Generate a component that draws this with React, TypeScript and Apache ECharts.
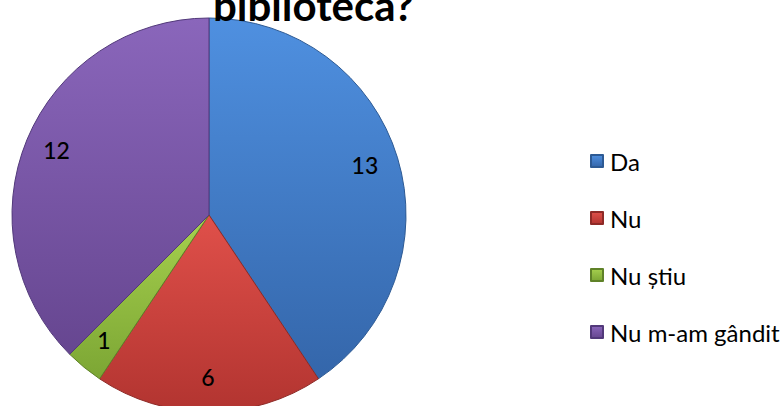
import React, { useEffect, useRef } from "react";
import * as echarts from "echarts";

const categories = ["Da", "Nu", "Nu știu", "Nu m-am gândit"];
const values = [13, 6, 1, 12];
const titleText = "biblioteca?";
const topColors = ["#4f90e0", "#e0504a", "#a6d04e", "#8a66bb"];
const bottomColors = ["#3466aa", "#b23430", "#7ca634", "#664690"];
const edgeColors = ["#2d5a94", "#8e2a27", "#5f8228", "#52397a"];

export default function App() {
  const ref = useRef<HTMLDivElement>(null);
  useEffect(() => {
    if (!ref.current) return;
    const chart = echarts.init(ref.current, null, { renderer: "svg" });
    const font = "Lato, 'Open Sans', sans-serif";
    const data = categories.map((name, i) => ({
      name,
      value: values[i],
      itemStyle: {
        color: new echarts.graphic.LinearGradient(0, 0, 0, 1, [
          { offset: 0, color: topColors[i] },
          { offset: 1, color: bottomColors[i] },
        ]),
        borderColor: edgeColors[i],
        borderWidth: 1,
      },
    }));
    chart.setOption({
      animation: false,
      backgroundColor: "#ffffff",
      title: {
        text: titleText,
        left: 208,
        top: -21,
        textStyle: { fontFamily: font, fontWeight: "bold", fontSize: 42, color: "#000" },
      },
      legend: {
        orient: "vertical",
        left: 585,
        top: 144,
        itemWidth: 12,
        itemHeight: 12,
        itemGap: 33,
        icon: "rect",
        data: categories,
        textStyle: { fontFamily: font, fontSize: 24, color: "#000", padding: [0, 0, 0, 2] },
      },
      series: [
        {
          type: "pie",
          center: [209, 215],
          radius: [0, 197],
          startAngle: 90,
          clockwise: true,
          silent: true,
          label: { show: false },
          labelLine: { show: false },
          data,
        },
        {
          type: "pie",
          center: [208, 213],
          radius: [156, 166],
          startAngle: 90,
          clockwise: true,
          silent: true,
          itemStyle: { color: "transparent", borderWidth: 0 },
          label: {
            show: true,
            position: "inside",
            formatter: "{c}",
            fontFamily: font,
            fontSize: 23,
            fontWeight: 500,
            color: "#000",
          },
          labelLine: { show: false },
          data: categories.map((name, i) => ({ name, value: values[i] })),
        },
      ],
    });
    return () => chart.dispose();
  }, []);
  return (
    <div
      ref={ref}
      style={{ position: "fixed", left: 0, top: 0, width: 784, height: 406 }}
    />
  );
}
